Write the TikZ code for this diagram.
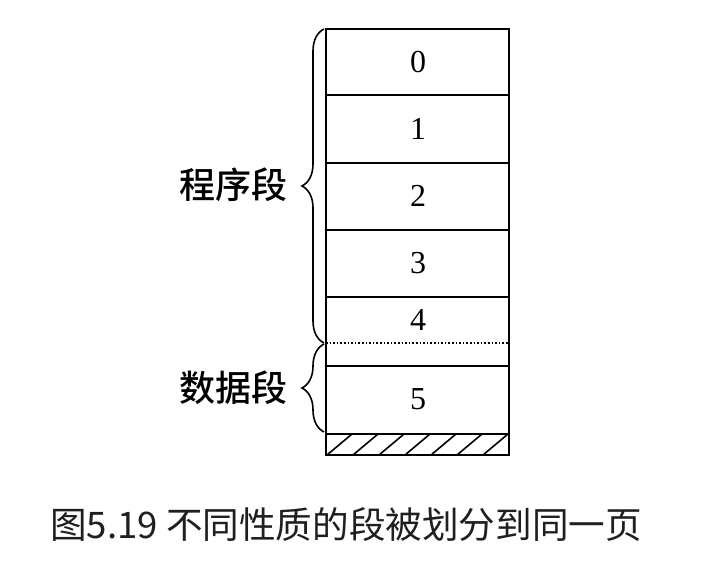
\documentclass[tikz,border=0pt]{standalone}
\usepackage{fontspec}
\setmainfont{Liberation Serif}
\newfontfamily\cjk{Noto Sans CJK SC}
\newfontfamily\cjkmed{Noto Sans CJK SC Medium}
\usetikzlibrary{decorations.pathreplacing}
\tikzset{
  segbrace/.style={decorate, decoration={brace, amplitude=11pt}, line width=0.8pt},
  seglabel/.style={anchor=east, inner sep=0pt, font=\cjkmed\fontsize{18pt}{20pt}\selectfont},
  pagenum/.style={font=\fontsize{16pt}{18pt}\selectfont}
}
\begin{document}
\begin{tikzpicture}[x=0.5pt,y=-0.5pt,line width=1.2pt]
\useasboundingbox (0,0) rectangle (712,567);
% page frame and cells
\draw (326,29) rectangle (509,455);
\foreach \y in {95,163,230,297,366,434}
  \draw (326,\y) -- (509,\y);
\draw [densely dotted, line width=0.8pt] (326,343) -- (509,343);
% hatched strip at the bottom
\foreach \k in {0,...,6}
  \draw [line width=0.8pt] ({327+26*\k},455) -- ({352+26*\k},434);
% numbers
\node[pagenum] (n0) at (418,62) {0};
\node[pagenum] (n1) at (418,129) {1};
\node[pagenum] (n2) at (418,196) {2};
\node[pagenum] (n3) at (418,263) {3};
\node[pagenum] (n4) at (418,320) {4};
\node[pagenum] (n5) at (418,399) {5};
% braces
\coordinate (progtop) at (324,29);
\coordinate (progbot) at (324,343);
\coordinate (datatop) at (324,344);
\coordinate (databot) at (324,432);
\draw [segbrace] (progbot) -- (progtop);
\draw [segbrace] (databot) -- (datatop);
\node[seglabel] (prog) at (289,185) {程序段};
\node[seglabel] (data) at (289,388) {数据段};
% caption
\node[font=\cjk\fontsize{18.3pt}{20pt}\selectfont, text=black!88] (cap) at (346,525) {图5.19 不同性质的段被划分到同一页};
\end{tikzpicture}
\end{document}
